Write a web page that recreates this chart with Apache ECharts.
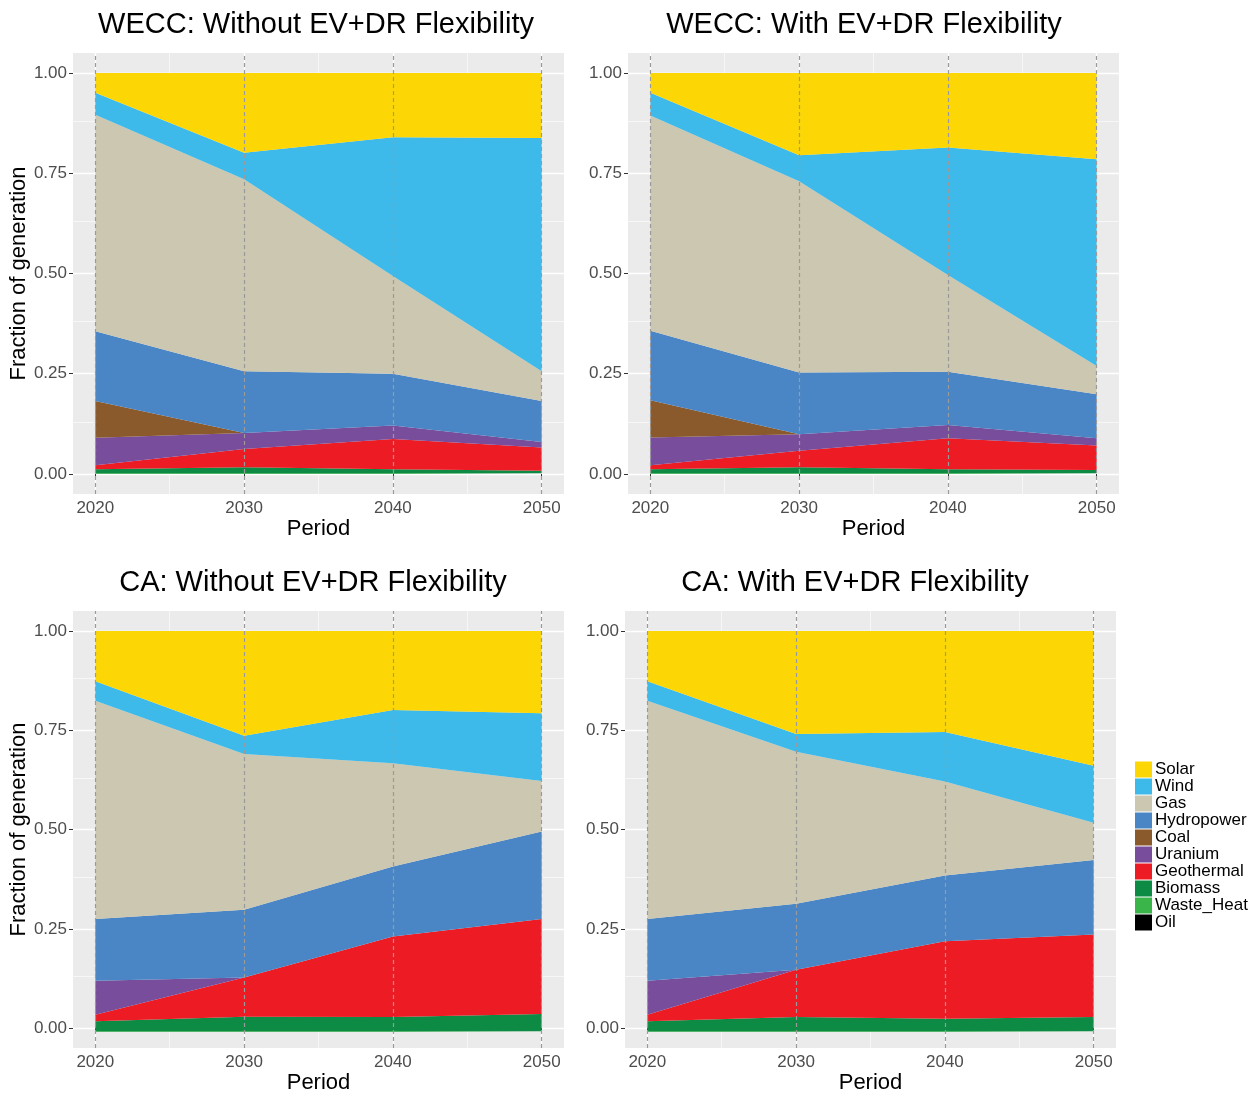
<!DOCTYPE html>
<html>
<head>
<meta charset="utf-8">
<script src="https://cdn.jsdelivr.net/npm/echarts@6/dist/echarts.min.js"></script>
<style>
  body { margin: 0; background: #fff; }
  #chart { width: 1257px; height: 1095px; }
</style>
</head>
<body>
<div id="chart"></div>
<script>
'use strict';

var periods = [2020, 2030, 2040, 2050];
var yTicks = [0, 0.25, 0.5, 0.75, 1];
var yMinor = [0.125, 0.375, 0.625, 0.875];
var xMinor = [2025, 2035, 2045];

var panelTitles = [
  'WECC: Without EV+DR Flexibility',
  'WECC: With EV+DR Flexibility',
  'CA: Without EV+DR Flexibility',
  'CA: With EV+DR Flexibility'
];

// one row per panel (same order as panelTitles), one value per period
var solar = [
  [0.049, 0.199, 0.160, 0.162],
  [0.049, 0.205, 0.186, 0.215],
  [0.125, 0.261, 0.197, 0.205],
  [0.125, 0.257, 0.252, 0.336]
];
var wind = [
  [0.055, 0.066, 0.346, 0.582],
  [0.057, 0.065, 0.318, 0.516],
  [0.049, 0.046, 0.133, 0.169],
  [0.049, 0.044, 0.123, 0.142]
];
var gas = [
  [0.540, 0.479, 0.244, 0.074],
  [0.537, 0.477, 0.241, 0.070],
  [0.544, 0.388, 0.257, 0.126],
  [0.544, 0.379, 0.235, 0.093]
];
var hydropower = [
  [0.174, 0.154, 0.129, 0.102],
  [0.173, 0.154, 0.133, 0.110],
  [0.154, 0.169, 0.175, 0.218],
  [0.154, 0.165, 0.164, 0.186]
];
var coal = [
  [0.092, 0, 0, 0],
  [0.093, 0, 0, 0],
  [0, 0, 0, 0],
  [0, 0, 0, 0]
];
var uranium = [
  [0.068, 0.040, 0.034, 0.014],
  [0.069, 0.041, 0.033, 0.018],
  [0.085, 0, 0, 0],
  [0.085, 0, 0, 0]
];
var geothermal = [
  [0.010, 0.045, 0.075, 0.058],
  [0.010, 0.041, 0.077, 0.061],
  [0.016, 0.098, 0.201, 0.237],
  [0.016, 0.118, 0.193, 0.206]
];
var biomass = [
  [0.010, 0.015, 0.010, 0.006],
  [0.010, 0.015, 0.010, 0.008],
  [0.025, 0.036, 0.035, 0.043],
  [0.025, 0.035, 0.031, 0.035]
];
var wasteHeat = [
  [0.002, 0.002, 0.002, 0.002],
  [0.002, 0.002, 0.002, 0.002],
  [0.002, 0.002, 0.002, 0.002],
  [0.002, 0.002, 0.002, 0.002]
];
var oil = [
  [0, 0, 0, 0],
  [0, 0, 0, 0],
  [0, 0, 0, 0],
  [0, 0, 0, 0]
];

// legend order (top of the stack first)
var sources = ['Solar', 'Wind', 'Gas', 'Hydropower', 'Coal', 'Uranium', 'Geothermal', 'Biomass', 'Waste_Heat', 'Oil'];
var sourceData = [solar, wind, gas, hydropower, coal, uranium, geothermal, biomass, wasteHeat, oil];
var sourceColors = ['#FCD705', '#3DBAEA', '#CCC7B1', '#4A86C5', '#8A5A2C', '#784D9C', '#ED1C24', '#0D8B45', '#3AB54A', '#000000'];

var panelPos = [
  { left: 73, top: 53, titleX: 311, titleY: 5 },
  { left: 628, top: 53, titleX: 859, titleY: 5 },
  { left: 73, top: 611, titleX: 308, titleY: 563 },
  { left: 625, top: 611, titleX: 850, titleY: 563 }
];
var panelW = 491, panelH = 441;
var xMin = 2018.5, xMax = 2051.5;

var font = 'Liberation Sans, Arial, Helvetica, sans-serif';

var titles = [], grids = [], xAxes = [], yAxes = [], series = [];

panelPos.forEach(function (pos, p) {
  var bg = 2 * p, dg = 2 * p + 1;

  titles.push({
    text: panelTitles[p],
    left: pos.titleX,
    top: pos.titleY,
    textAlign: 'center',
    textStyle: { fontFamily: font, fontSize: 29, fontWeight: 'normal', color: '#000' }
  });

  // background panel: grey fill, grid lines, ticks and labels (ggplot-style expanded range)
  grids.push({
    left: pos.left, top: pos.top, width: panelW, height: panelH,
    show: true, backgroundColor: '#EBEBEB', borderWidth: 0, z: 0
  });
  // data panel: only the span 2020..2050, so the category points land on the years
  var pad = panelW * (periods[0] - xMin) / (xMax - xMin);
  grids.push({
    left: pos.left + pad, top: pos.top, width: panelW - 2 * pad, height: panelH,
    show: false
  });

  xAxes.push({
    type: 'value',
    gridIndex: bg,
    z: 0,
    min: xMin,
    max: xMax,
    name: 'Period',
    nameLocation: 'middle',
    nameGap: 22,
    nameTextStyle: { fontFamily: font, fontSize: 22, color: '#000' },
    axisLine: { show: false },
    axisTick: { customValues: periods, length: 4, lineStyle: { color: '#333' } },
    axisLabel: {
      customValues: periods, fontFamily: font, fontSize: 17, color: '#4D4D4D', margin: 6,
      formatter: function (v) { return String(v); }
    },
    splitLine: { show: true, lineStyle: { color: '#fff', width: 1.3 } }
  });
  xAxes.push({
    type: 'category',
    gridIndex: dg,
    data: periods,
    boundaryGap: false,
    show: false
  });

  yAxes.push({
    type: 'value',
    gridIndex: bg,
    z: 0,
    min: -0.05,
    max: 1.05,
    name: (p % 2 === 0) ? 'Fraction of generation' : '',
    nameLocation: 'middle',
    nameGap: 42,
    nameTextStyle: { fontFamily: font, fontSize: 22, color: '#000' },
    axisLine: { show: false },
    axisTick: { customValues: yTicks, length: 4, lineStyle: { color: '#333' } },
    axisLabel: {
      customValues: yTicks, fontFamily: font, fontSize: 17, color: '#4D4D4D', margin: 6,
      formatter: function (v) { return v.toFixed(2); }
    },
    splitLine: { show: true, lineStyle: { color: '#fff', width: 1.3 } }
  });
  yAxes.push({
    type: 'value',
    gridIndex: dg,
    min: -0.05,
    max: 1.05,
    show: false,
    splitLine: { show: false }
  });

  // minor grid lines, under the areas
  series.push({
    type: 'line', xAxisIndex: bg, yAxisIndex: bg, data: [], z: 1, silent: true,
    markLine: {
      z: 1,
      symbol: 'none', silent: true, label: { show: false },
      lineStyle: { color: '#fff', width: 0.6, type: 'solid' },
      data: yMinor.map(function (v) { return { yAxis: v }; })
        .concat(xMinor.map(function (v) { return { xAxis: v }; }))
    }
  });

  // stacked areas, bottom (Oil) to top (Solar)
  for (var i = sources.length - 1; i >= 0; i--) {
    series.push({
      name: sources[i],
      type: 'line',
      xAxisIndex: dg,
      yAxisIndex: dg,
      stack: 'gen' + p,
      symbol: 'none',
      z: 3,
      color: sourceColors[i],
      lineStyle: { width: 0 },
      areaStyle: { color: sourceColors[i], opacity: 1 },
      data: sourceData[i][p]
    });
  }

  // dashed period lines over the areas
  series.push({
    type: 'line', xAxisIndex: bg, yAxisIndex: bg, data: [], z: 10, silent: true,
    markLine: {
      z: 10,
      symbol: 'none', silent: true, label: { show: false },
      lineStyle: { color: '#9A9A9A', width: 1.2, type: [4, 3] },
      data: periods.map(function (v) { return { xAxis: v }; })
    }
  });
});

var myChart = echarts.init(document.getElementById('chart'), null, { renderer: 'canvas' });

myChart.setOption({
  animation: false,
  backgroundColor: '#fff',
  title: titles,
  legend: {
    data: sources,
    orient: 'vertical',
    left: 1130,
    top: 756,
    icon: 'rect',
    itemWidth: 17,
    itemHeight: 16,
    itemGap: 0,
    selectedMode: false,
    textStyle: { fontFamily: font, fontSize: 17, lineHeight: 17, color: '#000', padding: [0, 0, 0, -2] }
  },
  grid: grids,
  xAxis: xAxes,
  yAxis: yAxes,
  series: series
});
</script>
</body>
</html>
